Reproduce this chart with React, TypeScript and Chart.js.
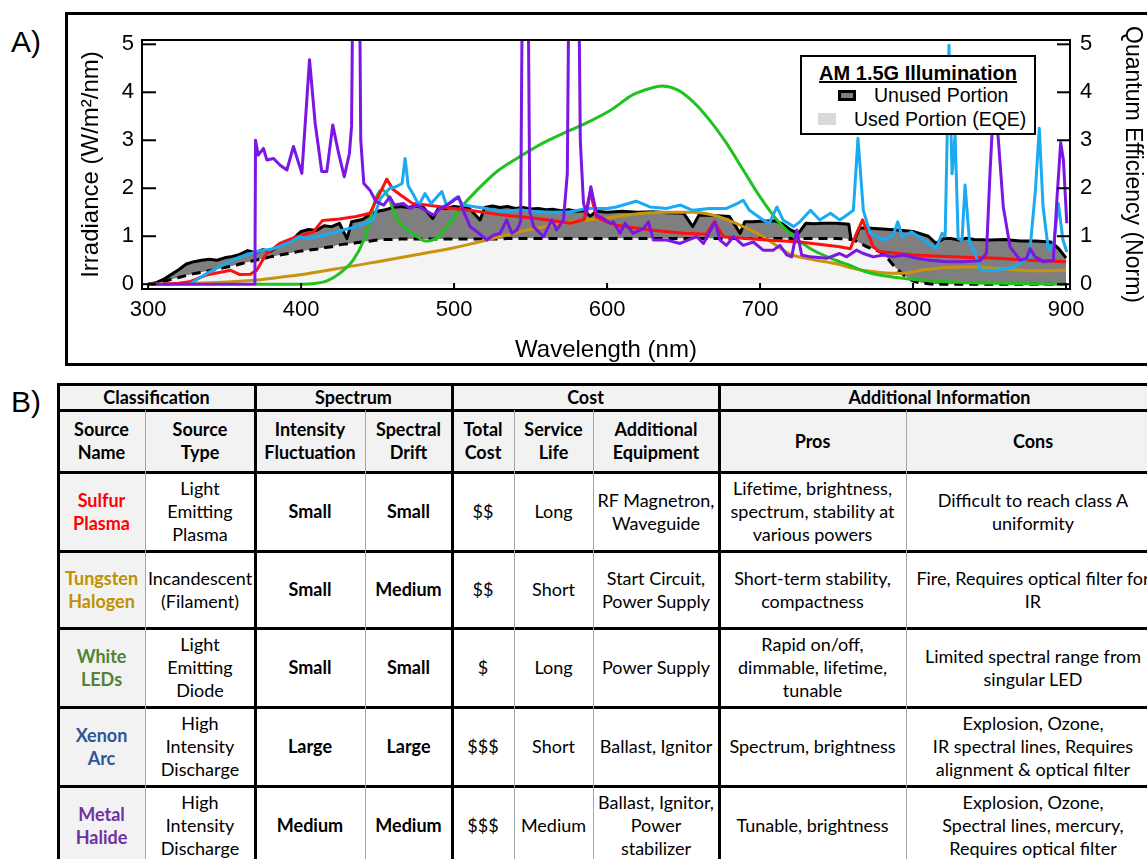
import React, { useEffect, useRef } from "react";
import { Chart, registerables } from "chart.js";
Chart.register(...registerables);

// ---------- Chart data ----------
const xTicks = [300, 400, 500, 600, 700, 800, 900];
const yTicks = [0, 1, 2, 3, 4, 5];

const amWavelength = [
  300, 305, 310, 315, 320, 325, 330, 335, 340, 345,
  350, 355, 360, 365, 370, 375, 380, 385, 390, 395,
  400, 405, 410, 415, 420, 425, 430, 433, 440, 445,
  450, 455, 460, 465, 470, 475, 480, 486, 490, 495,
  500, 505, 510, 517, 520, 525, 530, 535, 540, 545,
  550, 555, 560, 565, 570, 575, 580, 585, 589, 593,
  600, 610, 620, 630, 640, 650, 656, 660, 670, 680,
  687, 690, 695, 700, 710, 715, 720, 725, 730, 735,
  740, 750, 758, 760, 765, 770, 780, 790, 800, 810,
  815, 820, 825, 830, 835, 840, 850, 860, 870, 880,
  890, 895, 900,
];
const amIrradiance = [
  0, 0.03, 0.1, 0.2, 0.3, 0.42, 0.47, 0.5, 0.52, 0.5,
  0.55, 0.58, 0.62, 0.7, 0.66, 0.72, 0.68, 0.8, 0.85, 0.95,
  1.1, 1.14, 1.12, 1.22, 1.2, 1.27, 0.95, 1.3, 1.35, 1.45,
  1.52, 1.55, 1.6, 1.62, 1.6, 1.63, 1.6, 1.37, 1.6, 1.58,
  1.62, 1.6, 1.58, 1.34, 1.6, 1.63, 1.6, 1.62, 1.58, 1.6,
  1.57, 1.58, 1.55, 1.56, 1.53, 1.55, 1.52, 1.53, 1.42, 1.52,
  1.5, 1.52, 1.5, 1.51, 1.49, 1.48, 1.2, 1.44, 1.43, 1.41,
  1.06, 1.3, 1.3, 1.31, 1.32, 1.25, 1.13, 1.06, 1.27, 1.26,
  1.27, 1.27, 1.25, 0.8, 1.17, 1.17, 1.15, 1.13, 1.1, 1.0,
  0.85, 0.95, 0.95, 0.92, 0.96, 0.93, 0.92, 0.93, 0.9, 0.9,
  0.88, 0.75, 0.55,
];
const usedPortion = [
  0, 0.01, 0.05, 0.1, 0.14, 0.18, 0.22, 0.25, 0.28, 0.31,
  0.35, 0.38, 0.42, 0.46, 0.5, 0.53, 0.57, 0.6, 0.63, 0.66,
  0.69, 0.71, 0.73, 0.76, 0.78, 0.82, 0.84, 0.85, 0.88, 0.9,
  0.92, 0.93, 0.93, 0.94, 0.94, 0.94, 0.94, 0.94, 0.94, 0.94,
  0.94, 0.94, 0.94, 0.94, 0.94, 0.94, 0.94, 0.95, 0.95, 0.95,
  0.95, 0.95, 0.95, 0.95, 0.95, 0.95, 0.95, 0.95, 0.95, 0.95,
  0.95, 0.95, 0.95, 0.95, 0.95, 0.95, 0.95, 0.95, 0.95, 0.95,
  0.95, 0.95, 0.95, 0.95, 0.95, 0.95, 0.95, 0.95, 0.95, 0.95,
  0.95, 0.95, 0.94, 0.93, 0.86, 0.78, 0.64, 0.3, 0.07, 0.01,
  0, 0, 0, 0, 0, 0, 0, 0, 0, 0,
  0, 0, 0,
];

const sulfurWavelength = [
  310, 320, 327, 338, 349, 354, 360, 367, 371, 377,
  386, 397, 408, 414, 425, 436, 445, 450, 456, 460,
  465, 473, 482, 500, 510, 532, 554, 569, 576, 585,
  589, 593, 600, 606, 628, 650, 665, 670, 676, 704,
  726, 752, 759, 763, 767, 770, 774, 778, 800, 833,
  855, 876, 900,
];
const sulfurIrradiance = [
  0, 0.02, 0.05, 0.19, 0.26, 0.29, 0.2, 0.21, 0.29, 0.62,
  0.85, 0.99, 1.09, 1.33, 1.36, 1.41, 1.48, 1.8, 2.19, 1.98,
  1.86, 1.68, 1.65, 1.58, 1.54, 1.44, 1.37, 1.3, 1.27, 1.35,
  1.92, 1.4, 1.3, 1.23, 1.13, 1.06, 1.04, 1.3, 0.99, 0.92,
  0.88, 0.78, 0.74, 1.06, 1.34, 1.1, 0.78, 0.68, 0.61, 0.56,
  0.54, 0.5, 0.47,
];

const tungstenWavelength = [
  300, 320, 340, 360, 375, 390, 404, 425, 450, 478,
  500, 511, 543, 576, 602, 617, 639, 656, 672, 687,
  700, 711, 720, 730, 744, 752, 759, 772, 785, 794,
  807, 822, 837, 850, 866, 881, 900,
];
const tungstenIrradiance = [
  0, 0.01, 0.03, 0.06, 0.1, 0.16, 0.22, 0.33, 0.47, 0.63,
  0.76, 0.84, 1.09, 1.3, 1.39, 1.46, 1.5, 1.5, 1.42, 1.23,
  1.03, 0.8, 0.62, 0.54, 0.46, 0.41, 0.34, 0.27, 0.23, 0.23,
  0.3, 0.35, 0.36, 0.34, 0.3, 0.28, 0.29,
];

const ledWavelength = [
  370, 400, 410, 417, 425, 434, 441, 445, 449, 453,
  457, 462, 469, 476, 481, 489, 497, 506, 515, 528,
  543, 558, 576, 589, 602, 617, 628, 636, 646, 656,
  667, 678, 689, 700, 711, 722, 733, 744, 752, 758,
  768, 778, 789, 811, 833, 866, 900,
];
const ledIrradiance = [
  0, 0, 0.02, 0.07, 0.22, 0.5, 0.92, 1.34, 1.8, 1.97,
  1.82, 1.41, 1.13, 0.99, 0.9, 0.97, 1.27, 1.65, 1.96, 2.35,
  2.66, 2.94, 3.21, 3.4, 3.62, 3.95, 4.08, 4.13, 4.05, 3.81,
  3.42, 2.94, 2.38, 1.82, 1.34, 0.99, 0.74, 0.57, 0.47, 0.4,
  0.27, 0.19, 0.14, 0.07, 0.035, 0.015, 0,
];

const xenonWavelength = [
  327, 338, 349, 360, 371, 382, 393, 399, 404, 415,
  425, 436, 447, 450, 452, 458, 462, 466, 468, 470,
  473, 477, 481, 485, 492, 495, 502, 506, 521, 532,
  543, 554, 565, 576, 587, 600, 606, 619, 628, 639,
  648, 656, 667, 678, 685, 689, 693, 702, 706, 711,
  715, 722, 726, 733, 739, 746, 752, 755, 761, 764,
  767.5, 772, 781, 787, 790, 793, 799, 807, 815, 819,
  821, 823.5, 825.5, 827.5, 829.5, 832, 834, 837, 840, 844,
  848, 855, 866, 876, 880, 882.5, 885, 888.5, 892, 895,
  898, 900.5,
];
const xenonIrradiance = [
  0, 0.22, 0.4, 0.57, 0.68, 0.74, 0.88, 0.99, 0.95, 1.02,
  1.11, 1.2, 1.34, 1.62, 1.79, 2.0, 2.03, 2.1, 2.62, 2.05,
  1.89, 1.65, 1.89, 1.68, 1.93, 1.65, 1.82, 1.65, 1.58, 1.51,
  1.55, 1.51, 1.5, 1.51, 1.58, 1.58, 1.61, 1.73, 1.61, 1.58,
  1.65, 1.54, 1.58, 1.58, 1.68, 1.75, 1.54, 1.34, 1.27, 1.61,
  1.34, 1.2, 1.3, 1.54, 1.34, 1.48, 1.34, 1.4, 1.54, 3.04,
  1.54, 1.06, 0.92, 1.02, 1.3, 0.99, 1.09, 0.92, 0.74, 1.06,
  1.0, 4.98, 2.3, 3.1, 0.95, 0.92, 2.07, 0.85, 0.71, 0.29,
  0.29, 0.29, 0.36, 0.57, 1.96, 3.25, 1.61, 0.71, 0.85, 1.68,
  0.92, 0.67,
];

const halideWavelength = [
  300, 369.8, 370.2, 372, 375.4, 377.6, 382, 386.3, 390.7, 395,
  400.5, 405.5, 409.2, 413.5, 416.8, 420.7, 424.5, 428.2, 431.6, 433,
  434.5, 437.5, 439, 441, 445, 449, 454, 458, 461, 467,
  471, 476, 481, 486.5, 491, 497, 503, 506, 510.5, 515,
  519, 521.4, 525.7, 530, 534.4, 537.7, 541, 543.5, 545, 548,
  549.5, 552, 558.4, 564, 567, 571.5, 574, 575.5, 581, 582.5,
  584.6, 586.7, 589.4, 593.3, 597.6, 602, 604, 608.5, 611.7, 617,
  623.7, 627, 630.3, 639, 647.7, 658.6, 663, 670.6, 673.8, 678,
  682.6, 689, 695.6, 702, 708.7, 713, 717.4, 720.7, 724, 727.2,
  732.7, 743.6, 752, 756.6, 763, 767.5, 774, 780.6, 787, 793.7,
  802.4, 811, 822, 833, 843.8, 848, 850.3, 853, 855.8, 859,
  863.4, 870, 874.3, 876.5, 879.8, 885.2, 891.7, 894, 896.5, 898.3,
  900.5,
];
const halideIrradiance = [
  0, 0, 3.0, 2.69, 2.83, 2.59, 2.62, 2.48, 2.38, 2.87,
  2.31, 4.68, 3.35, 2.35, 2.35, 3.32, 2.73, 2.24, 2.73, 3.3,
  9, 9, 3.0, 2.1, 1.96, 1.72, 1.65, 1.82, 1.65, 1.68,
  1.58, 1.65, 1.54, 1.44, 1.58, 1.68, 1.82, 1.54, 1.2, 1.09,
  0.99, 0.92, 1.02, 1.06, 1.34, 1.06, 1.13, 1.3, 8, 8,
  1.5, 1.2, 0.99, 1.34, 1.13, 1.34, 2.3, 8, 8, 3.0,
  1.68, 1.48, 2.03, 1.44, 1.37, 1.27, 1.3, 1.06, 1.27, 1.06,
  1.16, 1.3, 0.92, 0.92, 0.85, 0.99, 0.85, 1.3, 0.92, 0.81,
  0.99, 0.81, 0.88, 0.71, 0.71, 0.81, 0.61, 0.57, 1.13, 0.61,
  0.57, 0.54, 0.64, 0.57, 0.71, 0.64, 0.57, 0.61, 0.57, 0.61,
  0.54, 0.5, 0.47, 0.47, 0.49, 0.64, 2.31, 4.0, 3.0, 1.61,
  0.78, 0.5, 0.54, 0.74, 0.57, 0.47, 0.5, 1.75, 2.95, 2.59,
  1.27,
];

// ---------- Table data ----------
const groupHeaders = ["Classification", "Spectrum", "Cost", "Additional Information"];
const columnHeaders = [
  "Source\nName", "Source\nType", "Intensity\nFluctuation", "Spectral\nDrift",
  "Total\nCost", "Service\nLife", "Additional\nEquipment", "Pros", "Cons",
];
const sourceNames = ["Sulfur\nPlasma", "Tungsten\nHalogen", "White\nLEDs", "Xenon\nArc", "Metal\nHalide"];
const sourceColors = ["#ff0000", "#bf9000", "#548235", "#2f5597", "#7030a0"];
const sourceTypes = [
  "Light\nEmitting\nPlasma", "Incandescent\n(Filament)", "Light\nEmitting\nDiode",
  "High\nIntensity\nDischarge", "High\nIntensity\nDischarge",
];
const intensityFluctuation = ["Small", "Small", "Small", "Large", "Medium"];
const spectralDrift = ["Small", "Medium", "Small", "Large", "Medium"];
const totalCost = ["$$", "$$", "$", "$$$", "$$$"];
const serviceLife = ["Long", "Short", "Long", "Short", "Medium"];
const additionalEquipment = [
  "RF Magnetron,\nWaveguide", "Start Circuit,\nPower Supply", "Power Supply",
  "Ballast, Ignitor", "Ballast, Ignitor,\nPower\nstabilizer",
];
const pros = [
  "Lifetime, brightness,\nspectrum, stability at\nvarious powers",
  "Short-term stability,\ncompactness",
  "Rapid on/off,\ndimmable, lifetime,\ntunable",
  "Spectrum, brightness",
  "Tunable, brightness",
];
const cons = [
  "Difficult to reach class A\nuniformity",
  "Fire, Requires optical filter for\nIR",
  "Limited spectral range from\nsingular LED",
  "Explosion, Ozone,\nIR spectral lines, Requires\nalignment & optical filter",
  "Explosion, Ozone,\nSpectral lines, mercury,\nRequires optical filter",
];

// ---------- Layout ----------
const FONT = "'Liberation Sans', Arial, sans-serif";
const TFONT = "Lato, 'Noto Sans', sans-serif";
const colEdges = [58, 145, 255, 365, 452, 514, 593, 719, 906, 1160];
const rowEdges = [384, 410, 472, 551, 628, 707, 786, 865];
const groupSpans = [[0, 2], [2, 4], [4, 7], [7, 9]];
const thickCols = [0, 2, 4, 7, 9];
const thinCols = [1, 3, 5, 6, 8];

function zip(xs: number[], ys: number[]) {
  return xs.map((x, i) => ({ x, y: ys[i] }));
}

const frameTicksPlugin = {
  id: "frameTicks",
  afterDatasetsDraw(chart: any) {
    const { ctx, chartArea: a, scales } = chart;
    ctx.save();
    ctx.strokeStyle = "#000";
    ctx.lineWidth = 2;
    ctx.strokeRect(a.left, a.top, a.right - a.left, a.bottom - a.top);
    const seg = (x1: number, y1: number, x2: number, y2: number) => {
      ctx.beginPath();
      ctx.moveTo(x1, y1);
      ctx.lineTo(x2, y2);
      ctx.stroke();
    };
    yTicks.forEach((v) => {
      const py = scales.y.getPixelForValue(v);
      seg(a.left, py, a.left + 14, py);
      const py2 = scales.y2.getPixelForValue(v);
      seg(a.right - 13, py2, a.right, py2);
    });
    xTicks.forEach((v) => {
      const px = scales.x.getPixelForValue(v);
      seg(px, a.bottom, px, a.bottom - 6);
    });
    ctx.restore();
  },
};

export default function App() {
  const canvasRef = useRef<HTMLCanvasElement>(null);

  useEffect(() => {
    const line = { pointRadius: 0, borderWidth: 3, clip: 0, fill: false, borderJoinStyle: "round" };
    const chart = new Chart(canvasRef.current as HTMLCanvasElement, {
      type: "line",
      data: {
        datasets: [
          {
            ...line, label: "AM 1.5G", data: zip(amWavelength, amIrradiance),
            borderColor: "#000", backgroundColor: "#7f7f7f", fill: 1, order: 21, tension: 0,
          },
          {
            ...line, label: "Used Portion (EQE)", data: zip(amWavelength, usedPortion),
            borderColor: "#000", borderDash: [9, 6], backgroundColor: "#f4f4f4", fill: "origin",
            order: 20, cubicInterpolationMode: "monotone",
          },
          { ...line, label: "Tungsten Halogen", data: zip(tungstenWavelength, tungstenIrradiance), borderColor: "#c8940f", order: 6, cubicInterpolationMode: "monotone" },
          { ...line, label: "White LEDs", data: zip(ledWavelength, ledIrradiance), borderColor: "#1fc21f", order: 5, cubicInterpolationMode: "monotone" },
          { ...line, label: "Sulfur Plasma", data: zip(sulfurWavelength, sulfurIrradiance), borderColor: "#ff1010", order: 4 },
          { ...line, label: "Xenon Arc", data: zip(xenonWavelength, xenonIrradiance), borderColor: "#19aaf2", order: 3 },
          { ...line, label: "Metal Halide", data: zip(halideWavelength, halideIrradiance), borderColor: "#7b16e4", order: 2 },
        ],
      },
      options: {
        responsive: false,
        animation: false,
        devicePixelRatio: 1,
        events: [],
        layout: { padding: { top: 40, left: 0, right: 0, bottom: 0 } },
        plugins: { legend: { display: false }, tooltip: { enabled: false } },
        scales: {
          x: {
            type: "linear", position: "bottom", min: 296, max: 902.6,
            afterBuildTicks: (s: any) => { s.ticks = xTicks.map((value) => ({ value })); },
            afterFit: (s: any) => { s.height = 81; },
            grid: { display: false, drawTicks: false },
            border: { display: false },
            ticks: { color: "#000", font: { family: FONT, size: 22 }, padding: 8, maxRotation: 0, autoSkip: false },
            title: { display: true, text: "Wavelength (nm)", color: "#000", font: { family: FONT, size: 24 }, padding: { top: 0, bottom: 5 } },
          },
          y: {
            type: "linear", position: "left", min: -0.1, max: 5.09,
            afterBuildTicks: (s: any) => { s.ticks = yTicks.map((value) => ({ value })); },
            afterFit: (s: any) => { s.width = 142; },
            grid: { display: false, drawTicks: false },
            border: { display: false },
            ticks: { color: "#000", font: { family: FONT, size: 22 }, padding: 8 },
            title: { display: true, text: "Irradiance (W/m²/nm)", color: "#000", font: { family: FONT, size: 24 }, padding: { top: 77, bottom: 0 } },
          },
          y2: {
            type: "linear", axis: "y", position: "right", min: -0.1, max: 5.09,
            afterBuildTicks: (s: any) => { s.ticks = yTicks.map((value) => ({ value })); },
            afterFit: (s: any) => { s.width = 77; },
            grid: { display: false, drawTicks: false },
            border: { display: false },
            ticks: { color: "#000", font: { family: FONT, size: 22 }, padding: 10 },
            title: { display: true, text: "Quantum Efficiency (Norm)", color: "#000", font: { family: FONT, size: 23 }, padding: { top: 1, bottom: 0 } },
          },
        },
      },
      plugins: [frameTicksPlugin],
    } as any);
    return () => chart.destroy();
  }, []);

  const cell = (key: string, c0: number, c1: number, r: number, text: string, bold: boolean, color = "#000") => (
    <div
      key={key}
      style={{
        position: "absolute",
        left: colEdges[c0],
        top: rowEdges[r],
        width: colEdges[c1] - colEdges[c0],
        height: rowEdges[r + 1] - rowEdges[r],
        display: "flex",
        alignItems: "center",
        justifyContent: "center",
        textAlign: "center",
        whiteSpace: "pre",
        fontFamily: TFONT,
        fontSize: 18,
        lineHeight: "23px",
        fontWeight: bold ? 700 : 400,
        color,
      }}
    >
      {text}
    </div>
  );

  const rowColumns = [sourceNames, sourceTypes, intensityFluctuation, spectralDrift, totalCost, serviceLife, additionalEquipment, pros, cons];
  const cells: any[] = [];
  groupHeaders.forEach((h, i) => cells.push(cell("g" + i, groupSpans[i][0], groupSpans[i][1], 0, h, true)));
  columnHeaders.forEach((h, i) => cells.push(cell("h" + i, i, i + 1, 1, h, true)));
  sourceNames.forEach((_, r) => {
    rowColumns.forEach((col, c) => {
      const bold = c === 0 || c === 2 || c === 3;
      cells.push(cell(`c${r}_${c}`, c, c + 1, r + 2, col[r], bold, c === 0 ? sourceColors[r] : "#000"));
    });
  });

  const lines: any[] = [];
  rowEdges.forEach((y, i) =>
    lines.push(<div key={"hr" + i} style={{ position: "absolute", left: colEdges[0] - 1.5, top: y - 1.5, width: colEdges[9] - colEdges[0] + 3, height: 3, background: "#000" }} />)
  );
  thickCols.forEach((c) =>
    lines.push(<div key={"vt" + c} style={{ position: "absolute", left: colEdges[c] - 1.5, top: rowEdges[0] - 1.5, width: 3, height: rowEdges[7] - rowEdges[0] + 3, background: "#000" }} />)
  );
  thinCols.forEach((c) =>
    lines.push(<div key={"vn" + c} style={{ position: "absolute", left: colEdges[c] - 0.5, top: rowEdges[1], width: 1, height: rowEdges[7] - rowEdges[1], background: "#a6a6a6" }} />)
  );

  return (
    <div style={{ position: "fixed", left: 0, top: 0, width: 1147, height: 859, background: "#fff", overflow: "hidden" }}>
      <div style={{ position: "absolute", left: 11, top: 27, fontFamily: FONT, fontSize: 30, lineHeight: "30px", color: "#000" }}>A)</div>
      <div style={{ position: "absolute", left: 65, top: 12, width: 1100, height: 354, border: "3px solid #000", boxSizing: "border-box" }} />
      <canvas ref={canvasRef} width={1147} height={370} style={{ position: "absolute", left: 0, top: 0, width: 1147, height: 370 }} />
      <div style={{ position: "absolute", left: 800, top: 55, width: 236, height: 80, border: "2px solid #000", background: "#fff", boxSizing: "border-box", fontFamily: FONT, color: "#000" }}>
        <div style={{ position: "absolute", left: 0, top: 5, width: "100%", textAlign: "center", fontSize: 20, lineHeight: "22px", fontWeight: 700, textDecoration: "underline" }}>AM 1.5G Illumination</div>
        <div style={{ position: "absolute", left: 36, top: 33, width: 18, height: 11, background: "#7f7f7f", border: "3px solid #000", boxSizing: "border-box" }} />
        <div style={{ position: "absolute", left: 72, top: 27, fontSize: 19.5, lineHeight: "22px", whiteSpace: "nowrap" }}>Unused Portion</div>
        <div style={{ position: "absolute", left: 16, top: 56, width: 18, height: 12, background: "#d9d9d9" }} />
        <div style={{ position: "absolute", left: 52, top: 51, fontSize: 19.5, lineHeight: "22px", whiteSpace: "nowrap" }}>Used Portion (EQE)</div>
      </div>
      <div style={{ position: "absolute", left: 11, top: 387, fontFamily: FONT, fontSize: 30, lineHeight: "30px", color: "#000" }}>B)</div>
      <div style={{ position: "absolute", left: colEdges[0], top: rowEdges[0], width: colEdges[9] - colEdges[0], height: rowEdges[2] - rowEdges[0], background: "#f2f2f2" }} />
      <div style={{ position: "absolute", left: colEdges[0], top: rowEdges[2], width: colEdges[1] - colEdges[0], height: rowEdges[7] - rowEdges[2], background: "#f2f2f2" }} />
      {cells}
      {lines}
    </div>
  );
}
